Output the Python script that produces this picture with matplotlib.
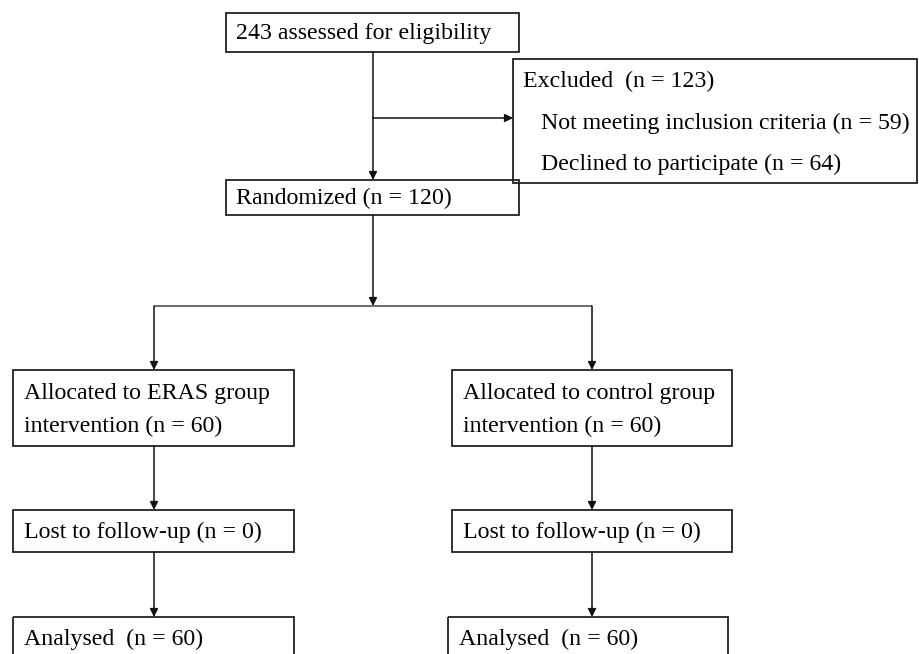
import matplotlib.pyplot as plt
from matplotlib.patches import Rectangle

# box texts (CONSORT style flow)
screen_text = "243 assessed for eligibility"
excluded_title = "Excluded  (n = 123)"
excluded_reasons = ["Not meeting inclusion criteria (n = 59)",
                    "Declined to participate (n = 64)"]
random_text = "Randomized (n = 120)"
group_alloc = ["Allocated to ERAS group\nintervention (n = 60)",
               "Allocated to control group\nintervention (n = 60)"]
group_lost = ["Lost to follow-up (n = 0)", "Lost to follow-up (n = 0)"]
group_analysed = ["Analysed  (n = 60)", "Analysed  (n = 60)"]

plt.rcParams['font.family'] = ['Liberation Serif', 'DejaVu Serif']

fig = plt.figure(figsize=(9.19, 6.54), dpi=100)
ax = fig.add_axes([0, 0, 1, 1])
ax.set_xlim(0, 919)
ax.set_ylim(654, 0)
ax.axis('off')

FS = 17.2
line_col = '#444444'


def box(x0, y0, x1, y1):
    ax.add_patch(Rectangle((x0, y0), x1 - x0, y1 - y0, fill=False,
                           edgecolor='#222222', lw=1.3, clip_on=False))


def arrow(x0, y0, x1, y1):
    ax.annotate('', xy=(x1, y1), xytext=(x0, y0),
                arrowprops=dict(arrowstyle='-|>', color='#111111', lw=1.1,
                                mutation_scale=12, shrinkA=0, shrinkB=0))


def seg(xs, ys):
    ax.plot(xs, ys, color=line_col, lw=1.1, solid_capstyle='butt')


# screening
box(226, 13, 519, 52)
ax.text(236, 34, screen_text, fontsize=FS, va='center')

# excluded
box(513, 59, 917, 183)
ax.text(523, 81, excluded_title, fontsize=FS, va='center')
ax.text(541, 123, excluded_reasons[0], fontsize=FS, va='center')
ax.text(541, 164, excluded_reasons[1], fontsize=FS, va='center')

arrow(373, 52, 373, 180)
arrow(373, 118, 513, 118)

# randomized
box(226, 180, 519, 215)
ax.text(236, 198, random_text, fontsize=FS, va='center')
arrow(373, 215, 373, 306)
seg([154, 592], [306, 306])

cols = [(13, 294, 154), (452, 732, 592)]
for i, (x0, x1, xc) in enumerate(cols):
    arrow(xc, 306, xc, 370)
    box(x0, 370, x1, 446)
    ax.text(x0 + 11, 410, group_alloc[i], fontsize=FS, va='center',
            linespacing=1.7)
    arrow(xc, 446, xc, 510)
    box(x0, 510, x1, 552)
    ax.text(x0 + 11, 532, group_lost[i], fontsize=FS, va='center')
    arrow(xc, 552, xc, 617)
    ax_x0 = x0 if i == 0 else 448
    ax_x1 = x1 if i == 0 else 728
    box(ax_x0, 617, ax_x1, 670)
    ax.text(ax_x0 + 11, 639, group_analysed[i], fontsize=FS, va='center')

fig.savefig('out.png', dpi=100, facecolor='white')
